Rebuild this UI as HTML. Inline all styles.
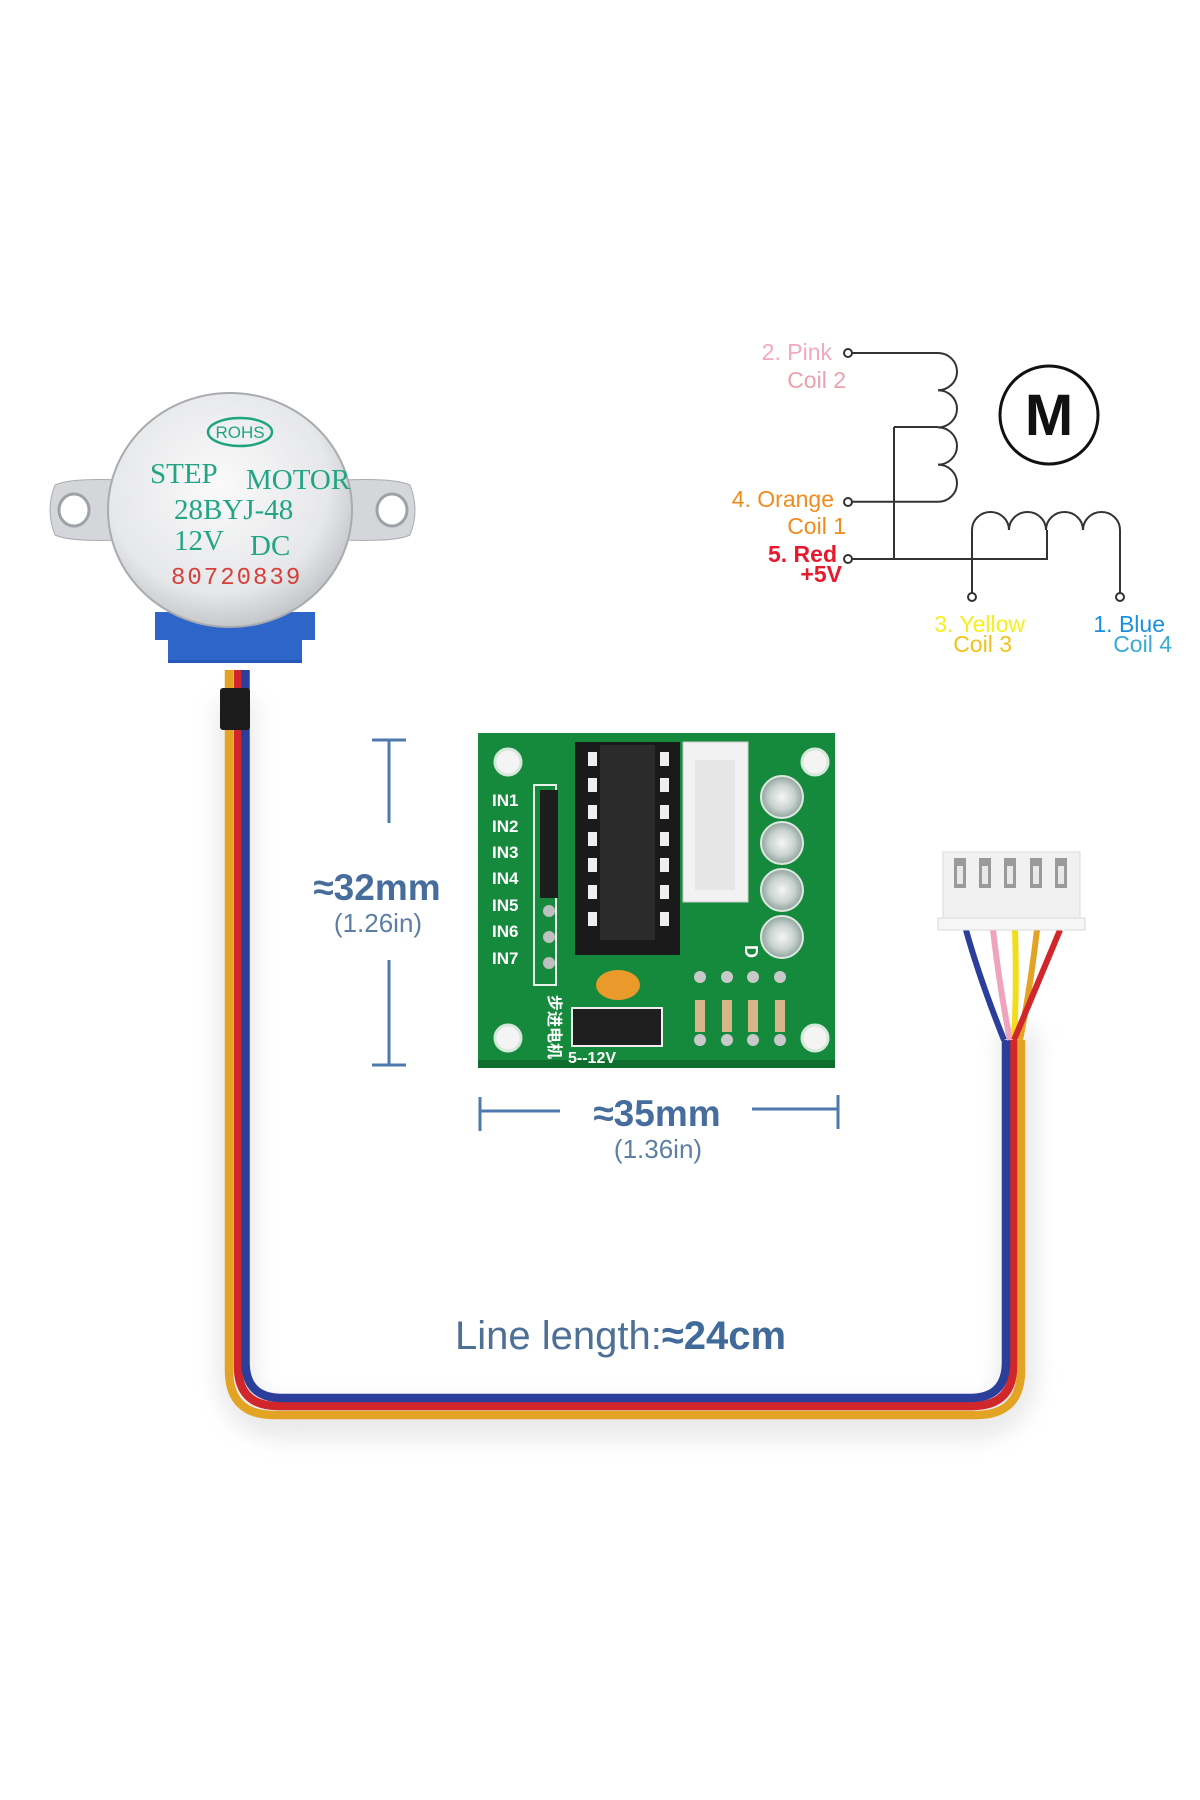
<!DOCTYPE html>
<html><head><meta charset="utf-8"><style>
html,body{margin:0;padding:0;background:#fff;}
svg{display:block;}
text{font-family:"Liberation Sans","Noto Sans CJK SC",sans-serif;}
</style></head><body>
<svg width="1200" height="1800" viewBox="0 0 1200 1800" xmlns="http://www.w3.org/2000/svg">
<defs>
<radialGradient id="mg" cx="0.45" cy="0.4" r="0.65">
<stop offset="0" stop-color="#fafafa"/><stop offset="0.7" stop-color="#e6e7e9"/><stop offset="1" stop-color="#b9bcc0"/>
</radialGradient>
<radialGradient id="led" cx="0.5" cy="0.5" r="0.5">
<stop offset="0" stop-color="#f4f6f5"/><stop offset="0.6" stop-color="#c9d2cf"/><stop offset="1" stop-color="#8fa39c"/>
</radialGradient>
<filter id="sh" x="-20%" y="-20%" width="140%" height="140%"><feGaussianBlur stdDeviation="10"/></filter>
</defs>
<rect width="1200" height="1800" fill="#fff"/>
<path d="M236 700 V1370 Q236 1420 286 1420 H968 Q1018 1420 1018 1370 V1030" fill="none" stroke="#e2e2e2" stroke-width="40" filter="url(#sh)" opacity="0.7"/>

<g fill="none" stroke-width="8.5">
<path d="M229 670 V1370 Q229 1415 274 1415 H976 Q1021 1415 1021 1370 V1040" stroke="#e3a425"/>
<path d="M238 670 V1366 Q238 1406 278 1406 H972 Q1013 1406 1013 1366 V1040" stroke="#d1262a"/>
<path d="M245.5 670 V1362 Q245.5 1398 282 1398 H970 Q1006 1398 1006 1362 V1040" stroke="#2b3f9a"/>
</g>
<g fill="none" stroke-width="6">
<path d="M966 930 Q980 980 1004 1040" stroke="#2b3f9a"/>
<path d="M993 930 Q1000 990 1010 1040" stroke="#f0a3bc"/>
<path d="M1015 930 Q1017 990 1014 1040" stroke="#f2dd1c"/>
<path d="M1037 930 Q1030 990 1020 1040" stroke="#e3a425"/>
<path d="M1060 930 Q1035 990 1014 1040" stroke="#d1262a"/>
</g>
<rect x="943" y="852" width="137" height="70" fill="#f1f1f1" stroke="#dcdcdc"/>
<rect x="938" y="918" width="147" height="12" fill="#f6f6f6" stroke="#dadada"/>
<g fill="#9a9a9a"><rect x="954" y="858" width="12" height="30"/><rect x="979" y="858" width="12" height="30"/><rect x="1004" y="858" width="12" height="30"/><rect x="1030" y="858" width="12" height="30"/><rect x="1055" y="858" width="12" height="30"/></g>
<g fill="#e8e8e8"><rect x="957" y="866" width="6" height="18"/><rect x="982" y="866" width="6" height="18"/><rect x="1007" y="866" width="6" height="18"/><rect x="1033" y="866" width="6" height="18"/><rect x="1058" y="866" width="6" height="18"/></g>

<!-- motor -->
<rect x="220" y="688" width="30" height="42" rx="3" fill="#1b1b1b"/>
<path d="M55 485 Q70 478 120 480 L120 540 Q70 542 55 535 Q45 510 55 485Z" fill="#d4d6d9" stroke="#a9acb0"/>
<path d="M345 480 Q395 478 410 485 Q420 510 410 535 Q395 542 345 540Z" fill="#d4d6d9" stroke="#a9acb0"/>
<ellipse cx="74" cy="510" rx="15" ry="16" fill="#fff" stroke="#9ea2a6" stroke-width="3"/>
<ellipse cx="392" cy="510" rx="15" ry="16" fill="#fff" stroke="#9ea2a6" stroke-width="3"/>
<path d="M168 640 H302 V663 H168Z" fill="#2459b8"/>
<path d="M155 612 H315 V640 H302 V660 H168 V640 H155Z" fill="#2d66c8"/>
<ellipse cx="230" cy="510" rx="122" ry="117" fill="url(#mg)" stroke="#a8abaf" stroke-width="2"/>
<ellipse cx="240" cy="432" rx="32" ry="14" fill="none" stroke="#1fa57d" stroke-width="2.5"/>
<text x="240" y="438" font-size="17" fill="#1fa57d" text-anchor="middle">ROHS</text>
<g fill="#22a585" font-size="29" style="font-family:'Liberation Serif',serif">
<text x="150" y="483" style="font-family:'Liberation Serif',serif">STEP</text>
<text x="246" y="489" style="font-family:'Liberation Serif',serif">MOTOR</text>
<text x="174" y="519" style="font-family:'Liberation Serif',serif">28BYJ-48</text>
<text x="174" y="550" style="font-family:'Liberation Serif',serif">12V</text>
<text x="250" y="555" style="font-family:'Liberation Serif',serif">DC</text>
</g>
<text x="171" y="584" font-size="24" fill="#d5403c" letter-spacing="2" style="font-family:'Liberation Mono',monospace">80720839</text>

<!-- schematic -->
<g fill="none" stroke="#333" stroke-width="2">
<path d="M852 353 H938 a19 18.6 0 0 1 0 37.2 a19 18.6 0 0 1 0 37.2 a19 18.6 0 0 1 0 37.2 a19 18.6 0 0 1 0 37.2 H852"/>
<path d="M894 427 H938 M894 427 V559"/>
<path d="M852 559 H1047 V530"/>
<path d="M972 593 V530 a18.5 18 0 0 1 37 0 a18.5 18 0 0 1 37 0 a18.5 18 0 0 1 37 0 a18.5 18 0 0 1 37 0 V593"/>
<circle cx="848" cy="353" r="4"/><circle cx="848" cy="502" r="4"/><circle cx="848" cy="559" r="4"/>
<circle cx="972" cy="597" r="4"/><circle cx="1120" cy="597" r="4"/>
<circle cx="1049" cy="415" r="49" stroke-width="3" stroke="#111"/>
</g>
<text x="1049" y="435" font-size="58" font-weight="bold" fill="#111" text-anchor="middle">M</text>
<g font-size="23" text-anchor="end">
<text x="832" y="360" fill="#f2a8c3">2. Pink</text>
<text x="846" y="388" fill="#eba1ad">Coil 2</text>
<text x="834" y="507" fill="#f28a1c">4. Orange</text>
<text x="846" y="534" fill="#f28a1c">Coil 1</text>
<text x="837" y="562" fill="#e8192c" font-weight="bold">5. Red</text>
<text x="842" y="582" fill="#e8192c" font-weight="bold">+5V</text>
<text x="1025" y="632" fill="#f7ef1a">3. Yellow</text>
<text x="1012" y="652" fill="#f2c21a">Coil 3</text>
<text x="1165" y="632" fill="#1a8fe0">1. Blue</text>
<text x="1172" y="652" fill="#3aaad8">Coil 4</text>
</g>

<!-- board -->
<rect x="478" y="733" width="357" height="335" fill="#158a3c"/>
<rect x="478" y="1060" width="357" height="8" fill="#0f6e2e"/>
<g fill="#f4f4f4" stroke="#d6e8da" stroke-width="3">
<circle cx="508" cy="762" r="13"/><circle cx="815" cy="762" r="13"/><circle cx="508" cy="1038" r="13"/><circle cx="815" cy="1038" r="13"/>
</g>
<rect x="534" y="785" width="22" height="200" fill="none" stroke="#e8f2ea" stroke-width="2"/>
<rect x="540" y="790" width="18" height="108" fill="#1d1d1d"/>
<g fill="#c0c0c0"><circle cx="549" cy="911" r="6"/><circle cx="549" cy="937" r="6"/><circle cx="549" cy="963" r="6"/></g>
<g font-size="17" font-weight="bold" fill="#fff">
<text x="492" y="806">IN1</text><text x="492" y="832">IN2</text><text x="492" y="858">IN3</text><text x="492" y="884">IN4</text><text x="492" y="911">IN5</text><text x="492" y="937">IN6</text><text x="492" y="964">IN7</text>
</g>
<rect x="575" y="742" width="105" height="213" fill="#1a1a1a"/>
<g fill="#eee">
<rect x="588" y="752" width="9" height="14"/><rect x="588" y="778" width="9" height="14"/><rect x="588" y="805" width="9" height="14"/><rect x="588" y="832" width="9" height="14"/><rect x="588" y="858" width="9" height="14"/><rect x="588" y="885" width="9" height="14"/><rect x="588" y="912" width="9" height="14"/>
<rect x="660" y="752" width="9" height="14"/><rect x="660" y="778" width="9" height="14"/><rect x="660" y="805" width="9" height="14"/><rect x="660" y="832" width="9" height="14"/><rect x="660" y="858" width="9" height="14"/><rect x="660" y="885" width="9" height="14"/><rect x="660" y="912" width="9" height="14"/>
</g>
<rect x="600" y="745" width="55" height="195" fill="#2b2b2b"/>
<rect x="683" y="742" width="65" height="160" fill="#f2f2f2" stroke="#ccc"/>
<rect x="695" y="760" width="40" height="130" fill="#e6e6e6"/>
<g fill="url(#led)" stroke="#dfe7e3" stroke-width="2">
<circle cx="782" cy="797" r="21"/><circle cx="782" cy="843" r="21"/><circle cx="782" cy="890" r="21"/><circle cx="782" cy="937" r="21"/>
</g>
<text x="745" y="945" font-size="18" font-weight="bold" fill="#fff" transform="rotate(90 745 945)">D</text>
<ellipse cx="618" cy="985" rx="22" ry="15" fill="#ea9a2a"/>
<rect x="572" y="1008" width="90" height="38" fill="#1e1e1e" stroke="#eee" stroke-width="2"/>
<g fill="#d8b68a"><rect x="695" y="1000" width="10" height="32"/><rect x="722" y="1000" width="10" height="32"/><rect x="748" y="1000" width="10" height="32"/><rect x="775" y="1000" width="10" height="32"/></g>
<g fill="#c9c9c9"><circle cx="700" cy="977" r="6"/><circle cx="727" cy="977" r="6"/><circle cx="753" cy="977" r="6"/><circle cx="780" cy="977" r="6"/><circle cx="700" cy="1040" r="6"/><circle cx="727" cy="1040" r="6"/><circle cx="753" cy="1040" r="6"/><circle cx="780" cy="1040" r="6"/></g>
<text x="549" y="995" font-size="16" fill="#fff" font-weight="bold" transform="rotate(90 549 995)" style="font-family:'Noto Sans CJK SC',sans-serif">步进电机</text>
<text x="568" y="1063" font-size="16" font-weight="bold" fill="#fff">5--12V</text>

<!-- dimensions -->
<g stroke="#4f79ad" stroke-width="3" fill="none">
<path d="M372 740 H406 M389 740 V823 M389 960 V1065 M372 1065 H406"/>
<path d="M480 1097 V1131 M480 1111 H560 M752 1109 H838 M838 1095 V1129"/>
</g>
<text x="377" y="900" font-size="37" font-weight="bold" fill="#466d9c" text-anchor="middle">≈32mm</text>
<text x="378" y="932" font-size="26" fill="#5e7ea6" text-anchor="middle">(1.26in)</text>
<text x="657" y="1126" font-size="37" font-weight="bold" fill="#466d9c" text-anchor="middle">≈35mm</text>
<text x="658" y="1158" font-size="26" fill="#5e7ea6" text-anchor="middle">(1.36in)</text>
<text x="455" y="1349" font-size="40" fill="#4e6f96">Line length:<tspan font-weight="bold" fill="#3f6a99">≈24cm</tspan></text>
</svg>
</body></html>
